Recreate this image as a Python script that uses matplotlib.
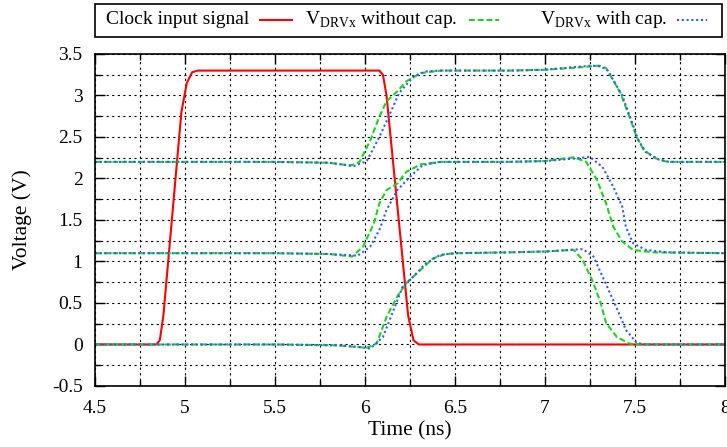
import matplotlib
matplotlib.use('Agg')
import matplotlib.pyplot as plt
from matplotlib.lines import Line2D
from matplotlib.patches import Rectangle
from matplotlib.ticker import MultipleLocator

plt.rcParams['font.family'] = ['Liberation Serif', 'DejaVu Serif']
plt.rcParams['mathtext.fontset'] = 'custom'
plt.rcParams['mathtext.rm'] = 'Liberation Serif'

# clock input signal
tClk = [4.5, 4.84, 4.86, 4.88, 4.98, 5.01, 5.04, 5.07, 6.08, 6.10, 6.12, 6.24, 6.27, 6.30, 8.0]
vClk = [0.0, 0.0, 0.05, 0.35, 2.8, 3.15, 3.28, 3.3, 3.3, 3.25, 3.0, 0.35, 0.05, 0.0, 0.0]

# V_DRVx without cap. (three drivers, offsets 0 / 1.1 / 2.2 V)
tNoCap0 = [4.5, 5.5, 5.85, 5.95, 6.01, 6.065, 6.12, 6.18, 6.23, 6.31, 6.38, 6.45, 6.52, 6.8,
           7.0, 7.16, 7.21, 7.27, 7.31, 7.34, 7.40, 7.47, 7.52, 8.0]
vNoCap0 = [0.0, 0.0, -0.01, -0.03, -0.04, 0.01, 0.33, 0.58, 0.74, 0.90, 1.04, 1.09, 1.10, 1.11,
           1.12, 1.14, 1.02, 0.74, 0.50, 0.26, 0.09, 0.01, 0.0, 0.0]
tNoCap1 = [4.5, 5.5, 5.8, 5.93, 5.99, 6.05, 6.08, 6.12, 6.18, 6.23, 6.31, 6.42, 6.8,
           7.0, 7.16, 7.23, 7.29, 7.34, 7.38, 7.43, 7.49, 7.60, 8.0]
vNoCap1 = [1.1, 1.1, 1.09, 1.06, 1.18, 1.46, 1.70, 1.86, 1.94, 2.08, 2.17, 2.20, 2.20,
           2.21, 2.255, 2.20, 1.98, 1.70, 1.42, 1.24, 1.14, 1.11, 1.1]
tNoCap2 = [4.5, 5.5, 5.8, 5.92, 5.97, 6.03, 6.08, 6.12, 6.18, 6.23, 6.31, 6.42, 6.8,
           7.0, 7.2, 7.30, 7.34, 7.42, 7.47, 7.51, 7.55, 7.62, 7.68, 8.0]
vNoCap2 = [2.2, 2.2, 2.19, 2.155, 2.20, 2.46, 2.745, 2.93, 3.05, 3.17, 3.27, 3.30, 3.30,
           3.31, 3.34, 3.36, 3.33, 3.03, 2.745, 2.50, 2.34, 2.24, 2.20, 2.2]

# V_DRVx with cap.
tCap0 = [4.5, 5.5, 5.85, 5.97, 6.03, 6.10, 6.16, 6.21, 6.27, 6.34, 6.42, 6.50, 6.8,
         7.0, 7.21, 7.27, 7.32, 7.37, 7.42, 7.45, 7.51, 7.56, 8.0]
vCap0 = [0.0, 0.0, -0.01, -0.03, -0.05, 0.09, 0.42, 0.70, 0.82, 0.98, 1.08, 1.10, 1.11,
         1.12, 1.15, 1.06, 0.82, 0.58, 0.335, 0.175, 0.02, 0.0, 0.0]
tCap1 = [4.5, 5.5, 5.8, 5.96, 6.03, 6.08, 6.12, 6.18, 6.25, 6.32, 6.42, 6.8,
         7.0, 7.16, 7.25, 7.32, 7.38, 7.43, 7.45, 7.49, 7.56, 7.68, 8.0]
vCap1 = [1.1, 1.1, 1.09, 1.07, 1.18, 1.38, 1.62, 1.86, 2.02, 2.16, 2.20, 2.20,
         2.21, 2.24, 2.26, 2.14, 1.90, 1.66, 1.42, 1.22, 1.14, 1.11, 1.1]
tCap2 = [4.5, 5.5, 5.8, 5.94, 6.01, 6.08, 6.14, 6.19, 6.27, 6.34, 6.42, 6.8,
         7.0, 7.26, 7.31, 7.35, 7.43, 7.48, 7.52, 7.56, 7.63, 7.69, 8.0]
vCap2 = [2.2, 2.2, 2.19, 2.15, 2.21, 2.50, 2.785, 3.03, 3.23, 3.29, 3.30, 3.30,
         3.31, 3.36, 3.35, 3.30, 3.00, 2.70, 2.46, 2.32, 2.23, 2.20, 2.2]

xTicks = [4.5, 5, 5.5, 6, 6.5, 7, 7.5, 8]
yTicks = [-0.5, 0, 0.5, 1, 1.5, 2, 2.5, 3, 3.5]

red = '#ff0000'
green = '#1ed21e'
blue = '#2f5cff'
dashGreen = (0, (2.8, 1.4))
dotBlue = (0, (1, 1.3))

fig = plt.figure(figsize=(7.27, 4.47), dpi=100)
ax = fig.add_axes([0.1307, 0.1365, 0.8663, 0.7427])

ax.plot(tClk, vClk, color=red, lw=1.5)
for t, v in [(tNoCap0, vNoCap0), (tNoCap1, vNoCap1), (tNoCap2, vNoCap2)]:
    ax.plot(t, v, color=green, lw=1.5, linestyle=dashGreen)
for t, v in [(tCap0, vCap0), (tCap1, vCap1), (tCap2, vCap2)]:
    ax.plot(t, v, color=blue, lw=1.5, linestyle=dotBlue)

ax.set_xlim(4.5, 8)
ax.set_ylim(-0.5, 3.5)
ax.set_xticks(xTicks)
ax.set_xticklabels(['%g' % x for x in xTicks])
ax.set_yticks(yTicks)
ax.set_yticklabels(['%g' % y for y in yTicks])
ax.xaxis.set_minor_locator(MultipleLocator(0.25))
ax.yaxis.set_minor_locator(MultipleLocator(0.25))
ax.tick_params(which='both', direction='in', top=True, right=True, labelsize=14, width=1)
ax.tick_params(axis='x', pad=10)
ax.tick_params(axis='y', pad=9)
ax.tick_params(which='major', length=7)
ax.tick_params(which='minor', length=4)
ax.grid(which='both', color='black', lw=0.8, linestyle=(0, (2, 3)))
ax.set_axisbelow(True)
for s in ax.spines.values():
    s.set_linewidth(1.2)

ax.set_xlabel('Time (ns)', fontsize=15.5, labelpad=3)
ax.set_ylabel('Voltage (V)', fontsize=15.5, labelpad=14)

# key box above the plot, gnuplot style (text then sample)
fig.add_artist(Rectangle((95 / 727, 1 - 37 / 447), 627 / 727, 33 / 447,
                         transform=fig.transFigure, fill=False, lw=1.2, edgecolor='black'))
keyY = 1 - 20 / 447
keys = [('Clock input signal', 249, 260, 292, red, '-'),
        (r'V$_{\mathrm{DRVx}}$ without cap.', 457, 469, 499, green, dashGreen),
        (r'V$_{\mathrm{DRVx}}$ with cap.', 667, 677, 707, blue, dotBlue)]
for label, xText, x0, x1, col, ls in keys:
    fig.text(xText / 727, keyY, label, ha='right', va='center', fontsize=14)
    fig.add_artist(Line2D([x0 / 727, x1 / 727], [keyY, keyY], transform=fig.transFigure,
                          color=col, lw=1.5, linestyle=ls))

fig.savefig('out.png', dpi=100)
